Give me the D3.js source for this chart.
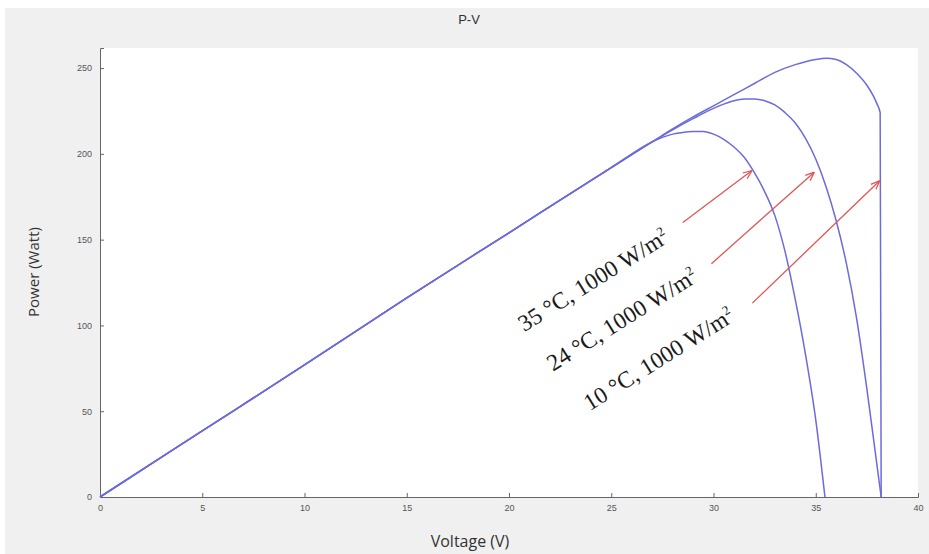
<!DOCTYPE html>
<html>
<head>
<meta charset="utf-8">
<script src="https://cdn.jsdelivr.net/npm/d3@7"></script>
<style>
  body { margin: 0; background: #fff; }
  svg { display: block; }
</style>
</head>
<body>
<svg id="chart" width="929" height="554"></svg>
<script>
const svgEl = document.getElementById('chart')
const width = +svgEl.getAttribute('width')
const height = +svgEl.getAttribute('height')
const svg = d3.select('#chart')

// data
const xTicks = [0, 5, 10, 15, 20, 25, 30, 35, 40]
const yTicks = [0, 50, 100, 150, 200, 250]

const volt35 = [0, 5, 10, 15, 20, 25, 27, 28, 28.5, 29, 29.5, 30, 30.5, 31, 31.5, 32, 32.5, 33, 33.5, 34, 34.5, 35, 35.45]
const power35 = [0, 38.5, 77, 116, 154, 192, 207, 211.5, 212.5, 213, 213, 211.5, 208.5, 204, 198, 189, 178, 164, 143, 115, 83, 45, 0]

const volt24 = [0, 5, 10, 15, 20, 25, 27, 28, 29, 30, 30.5, 31, 31.5, 32, 32.5, 33, 33.5, 34, 34.5, 35, 35.5, 36, 36.5, 37, 37.5, 38, 38.2]
const power24 = [0, 38.5, 77, 116, 154, 192, 207, 214, 220.5, 226.5, 229, 231, 232, 232, 231, 228.5, 224, 218, 209, 197, 181, 161, 136, 104, 63, 18, 0]

const volt10 = [0, 5, 10, 15, 20, 25, 27, 28, 29, 30, 31, 32, 33, 34, 35, 35.5, 36, 36.5, 37, 37.5, 38, 38.15, 38.2]
const power10 = [0, 38.5, 77, 116, 154, 192, 207, 214.5, 221.5, 228, 234.5, 241, 247.5, 252, 255, 255.7, 255, 252, 247, 240, 229, 224, 0]

const labels = ['35 °C, 1000 W/m', '24 °C, 1000 W/m', '10 °C, 1000 W/m']
// arrows: [fromV, fromP, toV, toP]
const arrows = [
  [28.5, 160, 31.85, 190],
  [29.9, 136, 34.9, 189],
  [31.9, 113, 38.1, 184]
]
// label anchor (V, P)
const labelPos = [[20.75, 96], [22.15, 73], [23.95, 50]]

const pLeft = 100, pRight = 918, pTop = 48, pBottom = 497

svg.append('rect')
  .attr('x', 5).attr('y', 8)
  .attr('width', width - 5).attr('height', height - 8)
  .attr('fill', '#f0f0f0')

svg.append('rect')
  .attr('x', pLeft).attr('y', pTop)
  .attr('width', pRight - pLeft).attr('height', pBottom - pTop)
  .attr('fill', '#ffffff')

const xScale = d3.scaleLinear().domain([0, 40]).range([pLeft, pRight])
const yScale = d3.scaleLinear().domain([0, 261.7]).range([pBottom, pTop])

const xAxis = d3.axisBottom(xScale).tickValues(xTicks).tickSize(-4).tickPadding(8)
const yAxis = d3.axisLeft(yScale).tickValues(yTicks).tickSize(-4).tickPadding(8)

const gx = svg.append('g')
  .attr('transform', `translate(0, ${pBottom})`)
  .call(xAxis)
const gy = svg.append('g')
  .attr('transform', `translate(${pLeft}, 0)`)
  .call(yAxis)

svg.selectAll('path.domain').style('stroke', '#666')
svg.selectAll('.tick line').style('stroke', '#666')
svg.selectAll('.tick text')
  .style('fill', '#555')
  .style('font-family', 'Liberation Sans, sans-serif')
  .style('font-size', '9px')

const line = d3.line()
  .x(d => xScale(d[0]))
  .y(d => yScale(d[1]))
  .curve(d3.curveMonotoneX)

const series = [
  [volt35, power35],
  [volt24, power24],
  [volt10, power10]
]

series.forEach(s => {
  svg.append('path')
    .datum(s[0].map((v, i) => [v, s[1][i]]))
    .attr('d', line)
    .attr('fill', 'none')
    .style('stroke', '#6b6bdc')
    .style('stroke-width', 1.5)
})

svg.append('defs')
  .append('marker')
    .attr('id', 'arrowhead')
    .attr('viewBox', '0 0 10 10')
    .attr('refX', 9)
    .attr('refY', 5)
    .attr('markerWidth', 9)
    .attr('markerHeight', 9)
    .attr('markerUnits', 'userSpaceOnUse')
    .attr('orient', 'auto')
  .append('path')
    .attr('d', 'M 0 1 L 10 5 L 0 9')
    .style('fill', 'none')
    .style('stroke', '#e05555')
    .style('stroke-width', 1.4)

svg.selectAll('line.arrow')
  .data(arrows)
  .enter()
  .append('line')
    .attr('class', 'arrow')
    .attr('x1', d => xScale(d[0]))
    .attr('y1', d => yScale(d[1]))
    .attr('x2', d => xScale(d[2]))
    .attr('y2', d => yScale(d[3]))
    .style('stroke', '#e05555')
    .style('stroke-width', 1.3)
    .attr('marker-end', 'url(#arrowhead)')

const lbl = svg.selectAll('text.lbl')
  .data(labels)
  .enter()
  .append('text')
    .attr('class', 'lbl')
    .attr('transform', (d, i) => `translate(${xScale(labelPos[i][0])}, ${yScale(labelPos[i][1])}) rotate(-32)`)
    .style('font-family', 'Liberation Serif, serif')
    .style('font-size', '23.5px')
    .style('fill', '#1a1a1a')
    .text(d => d)
lbl.append('tspan')
    .attr('dy', -9)
    .style('font-size', '13px')
    .text('2')

svg.append('text')
  .attr('x', (pLeft + pRight) / 2 - 40)
  .attr('y', 24)
  .attr('text-anchor', 'middle')
  .style('font-family', 'Liberation Sans, sans-serif')
  .style('font-size', '13px')
  .style('fill', '#333')
  .text('P-V')

svg.append('text')
  .attr('x', 470)
  .attr('y', 547)
  .attr('text-anchor', 'middle')
  .style('font-family', 'Open Sans, sans-serif')
  .style('font-size', '16px')
  .style('fill', '#333')
  .text('Voltage (V)')

svg.append('text')
  .attr('transform', `translate(39, 272) rotate(-90)`)
  .attr('text-anchor', 'middle')
  .style('font-family', 'Open Sans, sans-serif')
  .style('font-size', '15px')
  .style('fill', '#333')
  .text('Power (Watt)')
</script>
</body>
</html>
